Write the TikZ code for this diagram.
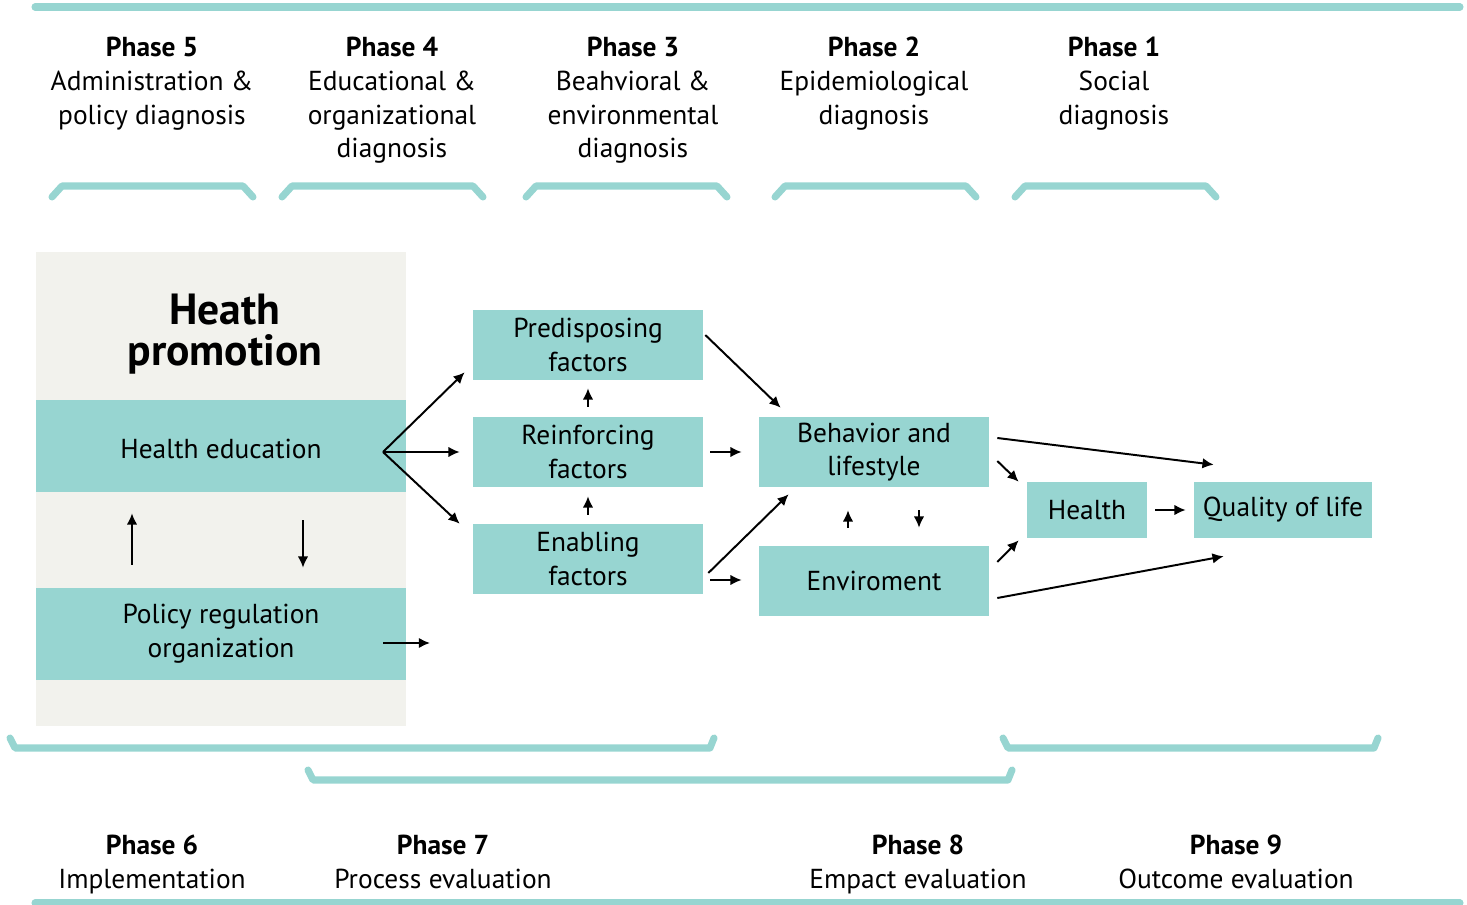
\documentclass[tikz,border=0pt]{standalone}
\usepackage{fontspec}
\setmainfont{PT Sans}
\usetikzlibrary{arrows.meta}
\definecolor{tealbox}{HTML}{97D5D1}
\definecolor{greybg}{HTML}{F2F2ED}
\tikzset{
  factor/.style={fill=tealbox, inner sep=0pt, align=center, font=\fontsize{19.5}{24}\selectfont},
  flow/.style={-{Latex[length=8pt,width=7.5pt]}, line width=1.4pt},
  phaselbl/.style={align=center, inner sep=0pt, anchor=north, font=\fontsize{19.5}{24}\selectfont},
  bracket/.style={draw=tealbox, line width=5pt, line cap=round, line join=round},
}
\begin{document}
\begin{tikzpicture}[x=0.025cm, y=-0.025cm]
\useasboundingbox (0,0) rectangle (1467,905);
% frame lines
\draw[bracket] (35,7) -- (1460,7);
\draw[bracket] (35,903) -- (1460,903);

% planning phases
\node[phaselbl] (p5) at (152,37) {\textbf{Phase 5}\\Administration \&\\policy diagnosis};
\node[phaselbl] (p4) at (392,37) {\textbf{Phase 4}\\Educational \&\\organizational\\diagnosis};
\node[phaselbl] (p3) at (633,37) {\textbf{Phase 3}\\Beahvioral \&\\environmental\\diagnosis};
\node[phaselbl] (p2) at (874,37) {\textbf{Phase 2}\\Epidemiological\\diagnosis};
\node[phaselbl] (p1) at (1114,37) {\textbf{Phase 1}\\Social\\diagnosis};
\foreach \xl in {52,282,526,775,1015}
  \draw[bracket] (\xl,197) -- (\xl+10,186) -- (\xl+191,186) -- (\xl+201,197);

% health promotion block
\fill[greybg] (36,252) rectangle (406,726);
\node[inner sep=0pt, align=center, font=\fontsize{31}{29}\selectfont\bfseries] (hp) at (225,334) {Heath\\promotion};
\node[factor, minimum width=9.25cm, minimum height=2.3cm] (hedu) at (221,446) {\raisebox{-9pt}[0pt][0pt]{Health education}};
\node[factor, minimum width=9.25cm, minimum height=2.3cm] (pol) at (221,634) {Policy regulation\\organization};
\coordinate (fan) at (383,452);
\coordinate (polend) at (430,643);

% factors
\node[factor, minimum width=5.75cm, minimum height=1.75cm] (pred) at (588,345) {Predisposing\\factors};
\node[factor, minimum width=5.75cm, minimum height=1.75cm] (reinf) at (588,452) {Reinforcing\\factors};
\node[factor, minimum width=5.75cm, minimum height=1.75cm] (enab) at (588,559) {Enabling\\factors};
\node[factor, minimum width=5.75cm, minimum height=1.75cm] (behav) at (874,452) {Behavior and\\lifestyle};
\node[factor, minimum width=5.75cm, minimum height=1.75cm] (env) at (874,581) {Enviroment};
\node[factor, minimum width=3cm, minimum height=1.4cm] (health) at (1087,510) {Health};
\node[factor, minimum width=4.45cm, minimum height=1.4cm] (qol) at (1283,510) {Quality of life};

\draw[flow] ([shift={(-89,-23)}]pol.north) -- ([shift={(-89,21)}]hedu.south);
\draw[flow] ([shift={(82,28)}]hedu.south) -- ([shift={(82,-20)}]pol.north);
\draw[flow] ([shift={(-23,9)}]pol.east) -- (polend);
\draw[flow] (fan) -- ([shift={(-8,-8)}]pred.south west);
\draw[flow] (fan) -- ([shift={(-13,0)}]reinf.west);
\draw[flow] (fan) -- ([shift={(-13,0)}]enab.north west);
\draw[flow] ([shift={(0,-10)}]reinf.north) -- ([shift={(0,8)}]pred.south);
\draw[flow] ([shift={(0,-9)}]enab.north) -- ([shift={(0,9)}]reinf.south);
\draw[flow] ([shift={(2,-10)}]pred.east) -- ([shift={(22,-9)}]behav.north west);
\draw[flow] ([shift={(7,0)}]reinf.east) -- ([shift={(-17,0)}]behav.west);
\draw[flow] ([shift={(5,14)}]enab.east) -- ([shift={(30,7)}]behav.south west);
\draw[flow] ([shift={(7,21)}]enab.east) -- ([shift={(-17,-1)}]env.west);
\draw[flow] ([shift={(-26,-18)}]env.north) -- ([shift={(-26,23)}]behav.south);
\draw[flow] ([shift={(45,23)}]behav.south) -- ([shift={(45,-18)}]env.north);
\draw[flow] ([shift={(8,-14)}]behav.east) -- ([shift={(20,-17)}]qol.north west);
\draw[flow] ([shift={(8,9)}]behav.east) -- ([shift={(-8,0)}]health.north west);
\draw[flow] ([shift={(8,-19)}]env.east) -- ([shift={(-8,2)}]health.south west);
\draw[flow] ([shift={(8,17)}]env.east) -- ([shift={(30,18)}]qol.south west);
\draw[flow] ([shift={(8,0)}]health.east) -- ([shift={(-8,0)}]qol.west);

% evaluation phases
\draw[bracket] (10,738) -- (15,748) -- (710,748) -- (714,738);
\draw[bracket] (308,770) -- (313,780) -- (1008,780) -- (1012,770);
\draw[bracket] (1003,738) -- (1008,748) -- (1374,748) -- (1378,738);
\node[phaselbl] (p6) at (152,835) {\textbf{Phase 6}\\Implementation};
\node[phaselbl] (p7) at (443,835) {\textbf{Phase 7}\\Process evaluation};
\node[phaselbl] (p8) at (918,835) {\textbf{Phase 8}\\Empact evaluation};
\node[phaselbl] (p9) at (1236,835) {\textbf{Phase 9}\\Outcome evaluation};
\end{tikzpicture}
\end{document}
